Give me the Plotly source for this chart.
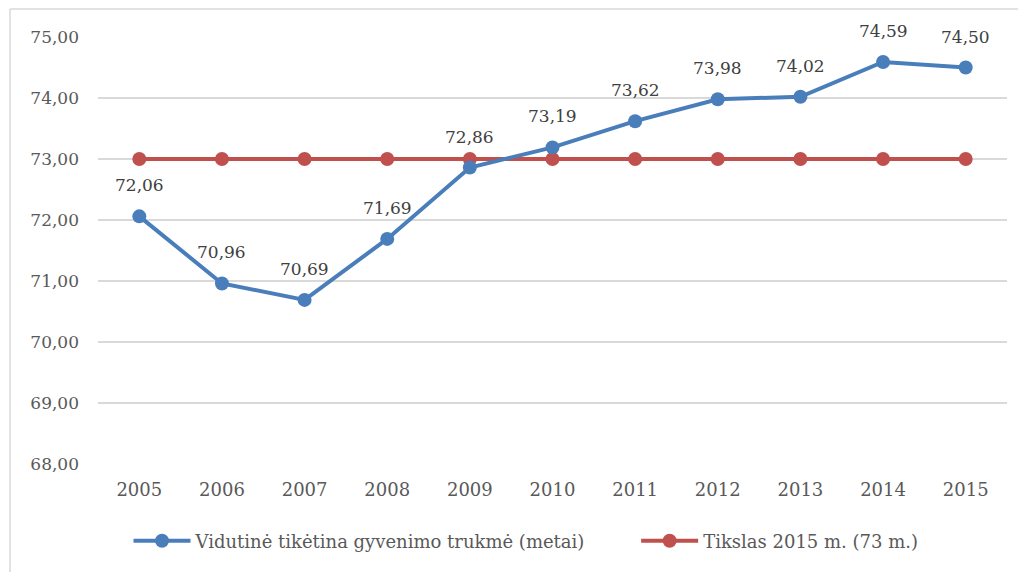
import plotly.graph_objects as go

years = ["2005", "2006", "2007", "2008", "2009", "2010", "2011", "2012", "2013", "2014", "2015"]
life_exp = [72.06, 70.96, 70.69, 71.69, 72.86, 73.19, 73.62, 73.98, 74.02, 74.59, 74.50]
target = [73.0] * 11
series_names = ["Vidutinė tikėtina gyvenimo trukmė (metai)", "Tikslas 2015 m. (73 m.)"]
y_ticks = [68, 69, 70, 71, 72, 73, 74, 75]

FONT = "DejaVu Serif"
BLUE = "#4a7ebb"
RED = "#c0504d"
GREY = "#595959"

fig = go.Figure()
fig.add_trace(go.Scatter(
    x=years, y=target, name=series_names[1], mode="lines+markers",
    line=dict(color=RED, width=4), marker=dict(size=14, color=RED),
))
fig.add_trace(go.Scatter(
    x=years, y=life_exp, name=series_names[0] + "\u00a0" * 8, mode="lines+markers",
    line=dict(color=BLUE, width=4), marker=dict(size=14, color=BLUE),
))

for i, v in enumerate(life_exp):
    fig.add_annotation(x=i, y=v, text=f"{v:.2f}".replace(".", ","), showarrow=False,
                       yshift=31, font=dict(size=17, color="#404040", family=FONT))

W, H = 1018, 564
L, R, T, B = 90, 19, 29, 108
pw = W - L - R
ph = H - T - B

fig.update_layout(
    width=W, height=H,
    margin=dict(l=L, r=R, t=T, b=B, autoexpand=False),
    paper_bgcolor="white", plot_bgcolor="white",
    font=dict(family=FONT, size=18, color=GREY),
    xaxis=dict(type="category", showgrid=False, showline=False, ticks="", automargin=False,
               tickfont=dict(size=18, color=GREY), ticklabelstandoff=13,
               range=[-0.5, 10.5]),
    yaxis=dict(range=[68, 75], tickvals=y_ticks, automargin=False,
               ticktext=[f"{v:.2f}".replace(".", ",") for v in y_ticks],
               showgrid=True, gridcolor="#d9d9d9", gridwidth=1.5, zeroline=False,
               showline=False, tickfont=dict(size=17, color=GREY), ticklabelstandoff=18),
    legend=dict(orientation="h", x=(518 - L) / pw, xanchor="center",
                y=-(533 - T - ph) / ph, yanchor="middle",
                font=dict(size=18, color=GREY), traceorder="reversed",
                itemwidth=57),
    showlegend=True,
    shapes=[
        dict(type="line", xref="paper", yref="paper",
             x0=(2 - L) / pw, x1=(2 - L) / pw, y0=-(H - T - ph) / ph - 0.01, y1=1 + (T - 1) / ph,
             line=dict(color="#d9d9d9", width=1.5), layer="below"),
        dict(type="line", xref="paper", yref="paper",
             x0=(2 - L) / pw, x1=1 + R / pw + 0.01, y0=1 + (T - 1) / ph, y1=1 + (T - 1) / ph,
             line=dict(color="#d9d9d9", width=1.5), layer="below"),
    ],
)
fig.write_html("out.html")
